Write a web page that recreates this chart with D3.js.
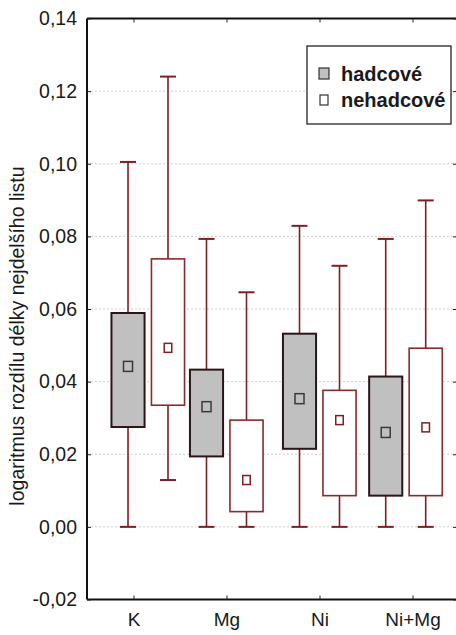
<!DOCTYPE html>
<html>
<head>
<meta charset="utf-8">
<script src="https://cdn.jsdelivr.net/npm/d3@7/dist/d3.min.js"></script>
<style>
  html, body { margin: 0; padding: 0; background: #fff; }
  svg { display: block; }
  text { font-family: Arial, "Liberation Sans", sans-serif; fill: #1a1a1a; }
</style>
</head>
<body>
<svg id="chart" width="456" height="635"></svg>
<script>
// Categories (treatments) and the two soil groups
const categories = ["K", "Mg", "Ni", "Ni+Mg"];
const series = ["hadcové", "nehadcové"];

// hadcové: min, lower box edge, mean, upper box edge, max
const hadMin  = [0, 0, 0, 0];
const hadLow  = [0.0275, 0.0194, 0.0215, 0.0086];
const hadMean = [0.0442, 0.0331, 0.0353, 0.0260];
const hadHigh = [0.0589, 0.0433, 0.0532, 0.0414];
const hadMax  = [0.1005, 0.0793, 0.0829, 0.0793];

// nehadcové: min, lower box edge, mean, upper box edge, max
const nehMin  = [0.0129, 0, 0, 0];
const nehLow  = [0.0335, 0.0042, 0.0086, 0.0086];
const nehMean = [0.0493, 0.0129, 0.0294, 0.0274];
const nehHigh = [0.0738, 0.0294, 0.0376, 0.0492];
const nehMax  = [0.1240, 0.0646, 0.0719, 0.0899];

const yTicks = [-0.02, 0.00, 0.02, 0.04, 0.06, 0.08, 0.10, 0.12, 0.14];
const yTitle = "logaritmus rozdílu délky nejdelšího listu";

// ---- layout ----
const plot = { left: 87, right: 459, top: 18.5, bottom: 599.5 };
const groupShift = [0.156, 0, 0, -0.073]; // horizontal shift of each box pair, category units
const pairHalfGap = 0.215;                 // distance of each box from the pair centre
const boxHalf = 0.178;                     // box half-width, category units
const capHalf = 0.086;                     // whisker cap half-width

const svg = d3.select("#chart");

const x = d3.scaleLinear().domain([-0.5, categories.length - 0.5]).range([plot.left, plot.right]);
const y = d3.scaleLinear().domain([-0.02, 0.14]).range([plot.bottom, plot.top]);
const fmt = v => d3.format(".2f")(v).replace(".", ",").replace("−", "-");

// grid lines
svg.append("g").selectAll("line")
  .data(yTicks.filter(v => v > -0.02 && v < 0.14))
  .join("line")
  .attr("x1", plot.left).attr("x2", plot.right)
  .attr("y1", d => y(d)).attr("y2", d => y(d))
  .attr("stroke", "#cfcfcf").attr("stroke-width", 1)
  .attr("stroke-dasharray", "2,2");

// build box records
const boxes = [];
categories.forEach((c, i) => {
  const centre = i + groupShift[i];
  boxes.push({ cat: c, s: 0, pos: centre - pairHalfGap, min: hadMin[i], lo: hadLow[i], mean: hadMean[i], hi: hadHigh[i], max: hadMax[i] });
  boxes.push({ cat: c, s: 1, pos: centre + pairHalfGap, min: nehMin[i], lo: nehLow[i], mean: nehMean[i], hi: nehHigh[i], max: nehMax[i] });
});

const whiskerColor = "#7d1f24";
const style = [
  { fill: "#c0c0c0", stroke: "#2b1517", sw: 2, mFill: "#c0c0c0", mStroke: "#3a3a3a", mw: 9, mh: 10 },
  { fill: "#ffffff", stroke: "#8a2a2e", sw: 1.6, mFill: "#ffffff", mStroke: "#7d1f24", mw: 7.5, mh: 9 }
];

const gB = svg.append("g");
boxes.forEach(b => {
  const cx = x(b.pos);
  const g = gB.append("g");
  // whisker stems
  g.append("line").attr("x1", cx).attr("x2", cx).attr("y1", y(b.max)).attr("y2", y(b.hi))
    .attr("stroke", whiskerColor).attr("stroke-width", 1.6);
  g.append("line").attr("x1", cx).attr("x2", cx).attr("y1", y(b.lo)).attr("y2", y(b.min))
    .attr("stroke", whiskerColor).attr("stroke-width", 1.6);
  // caps
  [b.max, b.min].forEach(v => {
    g.append("line")
      .attr("x1", x(b.pos - capHalf)).attr("x2", x(b.pos + capHalf))
      .attr("y1", y(v)).attr("y2", y(v))
      .attr("stroke", whiskerColor).attr("stroke-width", 2);
  });
  // box
  const st = style[b.s];
  g.append("rect")
    .attr("x", x(b.pos - boxHalf)).attr("width", x(b.pos + boxHalf) - x(b.pos - boxHalf))
    .attr("y", y(b.hi)).attr("height", y(b.lo) - y(b.hi))
    .attr("fill", st.fill).attr("stroke", st.stroke).attr("stroke-width", st.sw);
  // mean marker
  g.append("rect")
    .attr("x", cx - st.mw / 2).attr("y", y(b.mean) - st.mh / 2)
    .attr("width", st.mw).attr("height", st.mh)
    .attr("fill", st.mFill).attr("stroke", st.mStroke).attr("stroke-width", 1.5);
});

// frame
const frame = svg.append("g").attr("stroke", "#111").attr("stroke-width", 2).attr("fill", "none");
frame.append("line").attr("x1", plot.left).attr("x2", plot.left).attr("y1", plot.top).attr("y2", plot.bottom);
frame.append("line").attr("x1", plot.left).attr("x2", plot.right).attr("y1", plot.top).attr("y2", plot.top);
frame.append("line").attr("x1", plot.left).attr("x2", plot.right).attr("y1", plot.bottom).attr("y2", plot.bottom);
frame.append("line").attr("x1", plot.right).attr("x2", plot.right).attr("y1", plot.top).attr("y2", plot.bottom);

// left axis: inward ticks and labels
const yAxis = d3.axisLeft(y).tickValues(yTicks).tickSize(-4).tickPadding(10).tickFormat(fmt);
const gy = svg.append("g").attr("transform", `translate(${plot.left},0)`).call(yAxis);
gy.select(".domain").remove();
gy.selectAll(".tick line").attr("stroke", "#222");
gy.selectAll(".tick text").attr("font-size", 19.5).attr("fill", "#1a1a1a")
  .attr("font-family", "Arial, 'Liberation Sans', sans-serif");

// right axis ticks
const gr = svg.append("g").attr("transform", `translate(${plot.right - 3},0)`)
  .call(d3.axisRight(y).tickValues(yTicks).tickSize(-3).tickFormat(""));
gr.select(".domain").remove();
gr.selectAll(".tick line").attr("stroke", "#222");

// bottom axis: inward ticks and category labels
const xTickVals = categories.map((c, i) => i);
const gx = svg.append("g").attr("transform", `translate(0,${plot.bottom})`)
  .call(d3.axisBottom(x).tickValues(xTickVals).tickSize(-4).tickPadding(13).tickFormat(i => categories[i]));
gx.select(".domain").remove();
gx.selectAll(".tick line").attr("stroke", "#222");
gx.selectAll(".tick text").attr("font-size", 19).attr("fill", "#1a1a1a")
  .attr("font-family", "Arial, 'Liberation Sans', sans-serif");

// top axis ticks
const gt = svg.append("g").attr("transform", `translate(0,${plot.top})`)
  .call(d3.axisTop(x).tickValues(xTickVals).tickSize(-4).tickFormat(""));
gt.select(".domain").remove();
gt.selectAll(".tick line").attr("stroke", "#222");

// y title
svg.append("text")
  .attr("transform", `translate(24,336) rotate(-90)`)
  .attr("text-anchor", "middle")
  .attr("font-size", 19.5)
  .text(yTitle);

// legend
const lg = svg.append("g").attr("transform", "translate(307,46)");
lg.append("rect").attr("width", 144).attr("height", 78)
  .attr("fill", "#fff").attr("stroke", "#111").attr("stroke-width", 1.2);
series.forEach((s, i) => {
  const st = style[i];
  const cy = 28 + i * 26;
  lg.append("rect")
    .attr("x", 17 - (i ? 4 : 5)).attr("y", cy - (i ? 5 : 6))
    .attr("width", i ? 8 : 10).attr("height", i ? 10 : 11)
    .attr("fill", st.mFill).attr("stroke", "#333").attr("stroke-width", 1.2);
  lg.append("text")
    .attr("x", 34).attr("y", cy + 7)
    .attr("font-size", 20).attr("font-weight", "bold")
    .text(s);
});
</script>
</body>
</html>
